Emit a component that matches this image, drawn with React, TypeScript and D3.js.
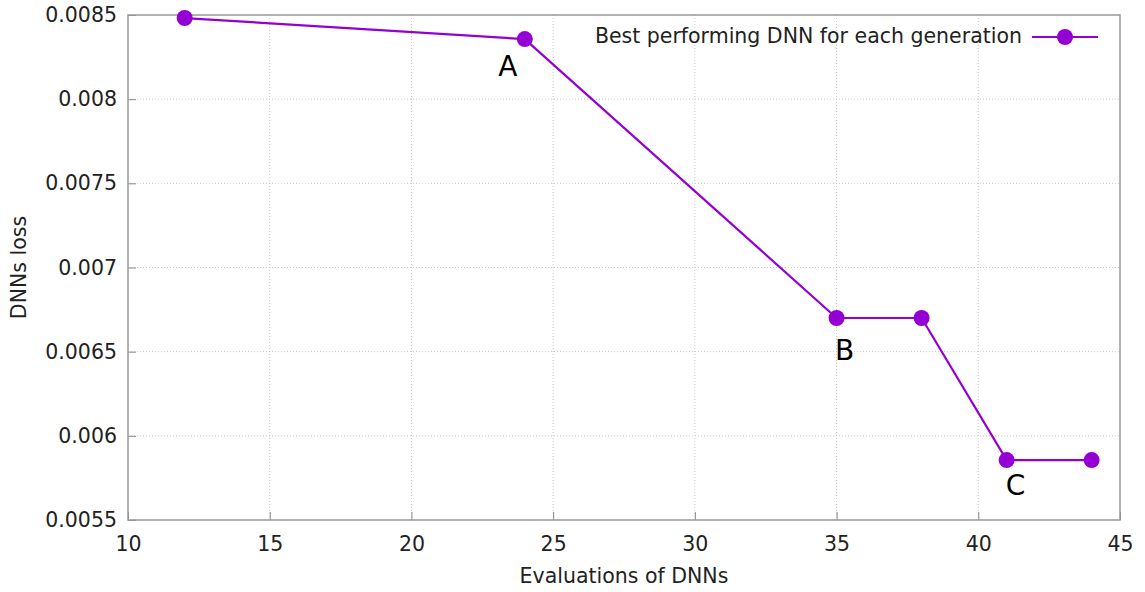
import React, { useEffect, useRef } from "react";
import * as d3 from "d3";

const evaluations = [12, 24, 35, 38, 41, 44];
const losses = [0.008482, 0.008357, 0.0067, 0.0067, 0.005856, 0.005856];
const xTicks = [10, 15, 20, 25, 30, 35, 40, 45];
const yTicks = [0.0055, 0.006, 0.0065, 0.007, 0.0075, 0.008, 0.0085];
const labelNames = ["A", "B", "C"];
const labelPoints = [1, 2, 4];
const labelShift = [[-17, 29], [8, 34], [9, 27]];
const seriesName = "Best performing DNN for each generation";

const W = 1145;
const H = 592;
const margin = { top: 15, right: 25, bottom: 72, left: 128 };
const purple = "#9400d3";
const font = "'DejaVu Sans', sans-serif";

export default function App() {
  const ref = useRef<HTMLDivElement>(null);

  useEffect(() => {
    if (!ref.current) return;
    ref.current.innerHTML = "";

    const svg = d3
      .select(ref.current)
      .append("svg")
      .attr("width", W)
      .attr("height", H)
      .style("display", "block")
      .style("font-family", font);

    const x = d3.scaleLinear().domain([10, 45]).range([margin.left, W - margin.right]);
    const y = d3.scaleLinear().domain([0.0055, 0.0085]).range([H - margin.bottom, margin.top]);

    // grid
    svg
      .append("g")
      .selectAll("line.gx")
      .data(xTicks.slice(1, -1))
      .join("line")
      .attr("x1", (d) => x(d))
      .attr("x2", (d) => x(d))
      .attr("y1", y(0.0085))
      .attr("y2", y(0.0055))
      .attr("stroke", "#c8c8c8")
      .attr("stroke-width", 1)
      .attr("stroke-dasharray", "1,2");

    svg
      .append("g")
      .selectAll("line.gy")
      .data(yTicks.slice(1, -1))
      .join("line")
      .attr("x1", x(10))
      .attr("x2", x(45))
      .attr("y1", (d) => y(d))
      .attr("y2", (d) => y(d))
      .attr("stroke", "#c8c8c8")
      .attr("stroke-width", 1)
      .attr("stroke-dasharray", "1,2");

    // axes
    const xAxis = svg
      .append("g")
      .attr("transform", `translate(0,${y(0.0055)})`)
      .call(d3.axisBottom(x).tickValues(xTicks).tickSize(-8).tickPadding(16).tickFormat(d3.format("d")));
    const yAxis = svg
      .append("g")
      .attr("transform", `translate(${x(10)},0)`)
      .call(d3.axisLeft(y).tickValues(yTicks).tickSize(-8).tickPadding(11).tickFormat((d) => String(+(+d).toFixed(4))));
    [xAxis, yAxis].forEach((a) => {
      a.select(".domain").remove();
      a.selectAll("line").attr("stroke", "#888");
      a.selectAll("text").attr("fill", "#222").style("font-size", "20.5px").style("font-family", font);
    });

    // frame
    svg
      .append("rect")
      .attr("x", x(10))
      .attr("y", y(0.0085))
      .attr("width", x(45) - x(10))
      .attr("height", y(0.0055) - y(0.0085))
      .attr("fill", "none")
      .attr("stroke", "#999")
      .attr("stroke-width", 1.5);

    // series
    const pts = evaluations.map((e, i) => [e, losses[i]] as [number, number]);
    const line = d3.line<[number, number]>().x((d) => x(d[0])).y((d) => y(d[1]));
    svg
      .append("path")
      .attr("d", line(pts))
      .attr("fill", "none")
      .attr("stroke", purple)
      .attr("stroke-width", 2.2);
    svg
      .append("g")
      .selectAll("circle")
      .data(pts)
      .join("circle")
      .attr("cx", (d) => x(d[0]))
      .attr("cy", (d) => y(d[1]))
      .attr("r", 8)
      .attr("fill", purple);

    // point labels
    labelNames.forEach((name, i) => {
      const p = pts[labelPoints[i]];
      svg
        .append("text")
        .attr("x", x(p[0]) + labelShift[i][0])
        .attr("y", y(p[1]) + labelShift[i][1])
        .attr("text-anchor", "middle")
        .attr("dominant-baseline", "middle")
        .style("font-size", "28px")
        .style("font-family", font)
        .attr("fill", "#000")
        .text(name);
    });

    // legend
    const ly = 37;
    svg
      .append("text")
      .attr("x", 1022)
      .attr("y", ly)
      .attr("text-anchor", "end")
      .attr("dominant-baseline", "middle")
      .style("font-size", "20.5px")
      .attr("fill", "#222")
      .text(seriesName);
    svg
      .append("line")
      .attr("x1", 1032)
      .attr("x2", 1098)
      .attr("y1", ly)
      .attr("y2", ly)
      .attr("stroke", purple)
      .attr("stroke-width", 2.2);
    svg
      .append("circle")
      .attr("cx", 1065)
      .attr("cy", ly)
      .attr("r", 8)
      .attr("fill", purple);

    // axis titles
    svg
      .append("text")
      .attr("x", (x(10) + x(45)) / 2)
      .attr("y", 577)
      .attr("text-anchor", "middle")
      .attr("dominant-baseline", "middle")
      .style("font-size", "20.5px")
      .attr("fill", "#222")
      .text("Evaluations of DNNs");
    svg
      .append("text")
      .attr("transform", `translate(20,${(y(0.0055) + y(0.0085)) / 2}) rotate(-90)`)
      .attr("text-anchor", "middle")
      .attr("dominant-baseline", "middle")
      .style("font-size", "20.5px")
      .attr("fill", "#222")
      .text("DNNs loss");
  }, []);

  return <div ref={ref} style={{ position: "absolute", left: 0, top: 0 }} />;
}
